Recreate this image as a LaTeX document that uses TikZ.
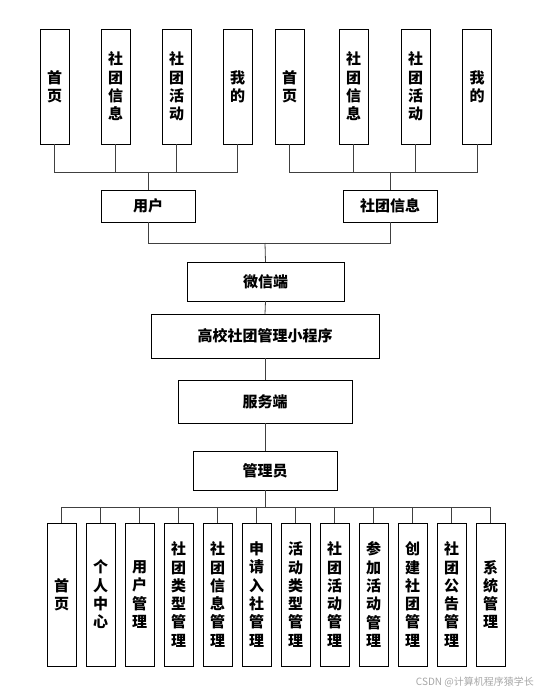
\documentclass[tikz,border=0pt]{standalone}
\usepackage{fontspec}
\newfontfamily\cjk{Noto Sans CJK SC}
\begin{document}
\begin{tikzpicture}[x=1pt,y=-1pt,
  box/.style={draw=black, line width=0.8pt, fill=white, inner sep=0pt, outer sep=0pt, align=center,
    font=\cjk\bfseries\fontsize{15}{18.3}\selectfont},
  vtop/.style={box, minimum width=29pt, minimum height=115pt},
  vbot/.style={box, minimum width=29pt, minimum height=143pt},
  conn/.style={draw=black!75, line width=0.8pt}]
\useasboundingbox (0,0) rectangle (538,693);
% top left group
\node[vtop] (a1) at (54.5,86.5) {首\\页};
\node[vtop] (a2) at (115.5,86.5) {社\\团\\信\\息};
\node[vtop] (a3) at (176.5,86.5) {社\\团\\活\\动};
\node[vtop] (a4) at (237.5,86.5) {我\\的};
% top right group
\node[vtop] (b1) at (289.5,86.5) {首\\页};
\node[vtop] (b2) at (353.5,86.5) {社\\团\\信\\息};
\node[vtop] (b3) at (415.5,86.5) {社\\团\\活\\动};
\node[vtop] (b4) at (477,86.5) {我\\的};
% middle
\node[box, minimum width=94pt, minimum height=32pt] (yh) at (148,206) {用户};
\node[box, minimum width=94pt, minimum height=32pt] (st) at (390,206) {社团信息};
\node[box, minimum width=157pt, minimum height=39pt] (wx) at (265.5,281.5) {微信端};
\node[box, minimum width=228pt, minimum height=44pt] (gx) at (265,336) {高校社团管理小程序};
\node[box, minimum width=174pt, minimum height=43pt] (fw) at (265,401.5) {服务端};
\node[box, minimum width=144pt, minimum height=39pt] (gl) at (265,470.5) {管理员};
% bottom
\node[vbot] (c1) at (61.5,594.5) {首\\页};
\node[vbot] (c2) at (100.5,594.5) {个\\人\\中\\心};
\node[vbot] (c3) at (139.5,594.5) {用\\户\\管\\理};
\node[vbot] (c4) at (178.5,594.5) {社\\团\\类\\型\\管\\理};
\node[vbot] (c5) at (217.5,594.5) {社\\团\\信\\息\\管\\理};
\node[vbot] (c6) at (256.5,594.5) {申\\请\\入\\社\\管\\理};
\node[vbot] (c7) at (295.5,594.5) {活\\动\\类\\型\\管\\理};
\node[vbot] (c8) at (334.5,594.5) {社\\团\\活\\动\\管\\理};
\node[vbot] (c9) at (373.5,594.5) {参\\加\\活\\动\\管\\理};
\node[vbot] (c10) at (412.5,594.5) {创\\建\\社\\团\\管\\理};
\node[vbot] (c11) at (451.5,594.5) {社\\团\\公\\告\\管\\理};
\node[vbot] (c12) at (490.5,594.5) {系\\统\\管\\理};
% connectors
\coordinate (busL) at (148,172);
\coordinate (busR) at (390,172);
\coordinate (busM) at (265,243);
\coordinate (busB) at (265,507);
\foreach \n in {a1,a2,a3,a4} \draw[conn] (\n.south) |- (busL);
\draw[conn] (busL) -- (yh.north);
\foreach \n in {b1,b2,b3,b4} \draw[conn] (\n.south) |- (busR);
\draw[conn] (busR) -- (st.north);
\draw[conn] (yh.south) |- (busM);
\draw[conn] (st.south) |- (busM);
\draw[conn] (busM) -- (wx.north);
\draw[conn] (wx.south) -- (gx.north);
\draw[conn] (gx.south) -- (fw.north);
\draw[conn] (fw.south) -- (gl.north);
\draw[conn] (gl.south) -- (busB);
\foreach \n in {c1,c2,c3,c4,c5,c6,c7,c8,c9,c10,c11,c12} \draw[conn] (\n.north) |- (busB);
% watermark
\node[anchor=east, inner sep=0pt, text=black!35, font=\cjk\fontsize{10}{12}\selectfont] (wm) at (534,682) {CSDN @计算机程序猿学长};
\end{tikzpicture}
\end{document}
